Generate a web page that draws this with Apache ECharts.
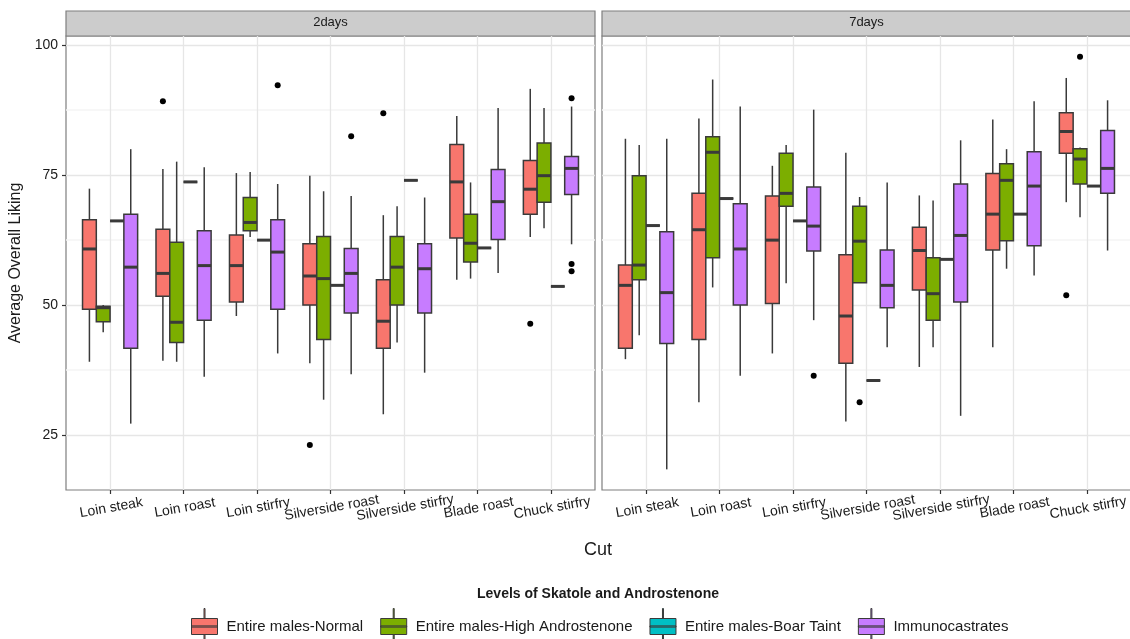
<!DOCTYPE html>
<html>
<head>
<meta charset="utf-8">
<title>Average Overall Liking by Cut</title>
<script src="https://cdn.jsdelivr.net/npm/echarts@6.0.0/dist/echarts.min.js"></script>
<style>
  html, body { margin: 0; padding: 0; background: #fff; }
  #chart { width: 1130px; height: 639px; }
</style>
</head>
<body>
<div id="chart"></div>
<script>
// categories / groups
const cuts = ['Loin steak', 'Loin roast', 'Loin stirfry', 'Silverside roast', 'Silverside stirfry', 'Blade roast', 'Chuck stirfry'];
const groups = ['Entire males-Normal', 'Entire males-High Androstenone', 'Entire males-Boar Taint', 'Immunocastrates'];
const panels = ['2days', '7days'];
const yTicks = [25, 50, 75, 100];
const yMinorTicks = [37.5, 62.5, 87.5];

// box stats per cut: [lower whisker, Q1, median, Q3, upper whisker]
const day2Normal = [
  [39.1, 49.2, 60.8, 66.4, 72.4], [39.3, 51.7, 56.1, 64.6, 76.2], [47.9, 50.6, 57.6, 63.5, 75.4],
  [38.8, 50.0, 55.6, 61.8, 74.9], [29.0, 41.7, 46.9, 54.9, 67.3], [54.9, 62.9, 73.7, 80.9, 86.4],
  [63.1, 67.5, 72.3, 77.8, 91.6]
];
const day2High = [
  [44.8, 46.8, 49.5, 49.8, 50.0], [39.1, 42.8, 46.7, 62.1, 77.6], [63.1, 64.3, 65.9, 70.7, 75.6],
  [31.8, 43.4, 55.1, 63.2, 71.9], [42.8, 50.0, 57.3, 63.2, 69.0], [55.1, 58.3, 61.9, 67.5, 73.6],
  [64.8, 69.8, 74.9, 81.2, 87.9]
];
// boar taint: one animal per cut
const day2Taint = [66.2, 73.7, 62.5, 53.8, 74.0, 61.0, 53.6];
const day2Immuno = [
  [27.2, 41.7, 57.3, 67.5, 80.0], [36.2, 47.1, 57.6, 64.3, 76.5], [40.7, 49.2, 60.2, 66.4, 73.3],
  [36.7, 48.5, 56.1, 60.9, 71.0], [37.0, 48.5, 57.0, 61.8, 70.7], [56.2, 62.6, 69.9, 76.1, 87.9],
  [61.7, 71.3, 76.3, 78.6, 88.2]
];

const day7Normal = [
  [39.6, 41.7, 53.8, 57.7, 82.0], [31.3, 43.4, 64.5, 71.5, 85.9], [40.7, 50.3, 62.5, 71.0, 76.8],
  [27.6, 38.8, 47.9, 59.7, 79.3], [38.1, 52.9, 60.5, 65.0, 71.1], [41.9, 60.6, 67.5, 75.3, 85.7],
  [69.8, 79.2, 83.4, 87.0, 93.7]
];
const day7High = [
  [44.2, 54.9, 57.7, 74.9, 80.8], [53.4, 59.1, 79.4, 82.4, 93.4], [54.2, 69.0, 71.5, 79.2, 80.8],
  [54.3, 54.3, 62.3, 69.0, 70.8], [41.9, 47.1, 52.2, 59.1, 70.1], [57.0, 62.4, 74.0, 77.2, 80.0],
  [66.9, 73.3, 78.1, 80.1, 80.3]
];
const day7Taint = [65.3, 70.5, 66.2, 35.5, 58.8, 67.5, 72.9];
const day7Immuno = [
  [18.4, 42.6, 52.4, 64.1, 82.0], [36.4, 50.0, 60.8, 69.5, 88.2], [47.1, 60.4, 65.2, 72.7, 87.6],
  [41.9, 49.5, 53.8, 60.6, 73.6], [28.7, 50.6, 63.4, 73.3, 81.7], [55.7, 61.4, 72.9, 79.5, 89.2],
  [60.5, 71.5, 76.3, 83.6, 89.4]
];

// outliers: [cut index, group index, value]
const day2Outliers = [
  [1, 0, 89.2], [3, 0, 23.1], [4, 0, 86.9], [6, 0, 46.4],
  [2, 3, 92.3], [3, 3, 82.5], [6, 3, 89.8], [6, 3, 57.9], [6, 3, 56.5]
];
const day7Outliers = [
  [2, 3, 36.4], [3, 1, 31.3], [6, 0, 51.9], [6, 1, 97.8]
];

const colors = ['#F8766D', '#7CAE00', '#00BFC4', '#C77CFF'];
const font = '"Liberation Sans", Arial, sans-serif';
const ink = '#3a3a3a';

// panel geometry (ggplot-like facets)
const panelTop = 36, panelH = 454, panelW = 529;
const panelLeft = [66, 602];
const unit = panelW / (cuts.length + 0.2);    // discrete axis: 0.6 expansion each side
const inset = unit * 0.1;

// y range: data range + 5% each side
const allVals = [].concat(
  day2Normal.flat(), day2High.flat(), day2Taint, day2Immuno.flat(),
  day7Normal.flat(), day7High.flat(), day7Taint, day7Immuno.flat(),
  day2Outliers.map(d => d[2]), day7Outliers.map(d => d[2])
);
const vMin = Math.min(...allVals), vMax = Math.max(...allVals);
const yMin = vMin - 0.05 * (vMax - vMin);
const yMax = vMax + 0.05 * (vMax - vMin);

const panelData = [
  [day2Normal, day2High, day2Taint.map(v => [v, v, v, v, v]), day2Immuno],
  [day7Normal, day7High, day7Taint.map(v => [v, v, v, v, v]), day7Immuno]
];
const panelOutliers = [day2Outliers, day7Outliers];

function boxRender(g) {
  return function (params, api) {
    const c = api.value(0);
    const w = api.size([1, 0])[0] * 0.75 / groups.length;
    const x = api.coord([c, 0])[0] + (g - 1.5) * w;
    const py = v => api.coord([c, v])[1];
    const lo = py(api.value(1)), q1 = py(api.value(2)), md = py(api.value(3));
    const q3 = py(api.value(4)), hi = py(api.value(5));
    const stroke = { stroke: ink, lineWidth: 1.5 };
    return {
      type: 'group',
      children: [
        { type: 'line', shape: { x1: x, y1: hi, x2: x, y2: q3 }, style: stroke },
        { type: 'line', shape: { x1: x, y1: q1, x2: x, y2: lo }, style: stroke },
        { type: 'rect', shape: { x: x - w / 2, y: q3, width: w, height: q1 - q3 },
          style: { fill: colors[g], stroke: ink, lineWidth: 1.5 } },
        { type: 'line', shape: { x1: x - w / 2, y1: md, x2: x + w / 2, y2: md },
          style: { stroke: ink, lineWidth: 3 } }
      ]
    };
  };
}

function outlierRender(params, api) {
  const c = api.value(0);
  const w = api.size([1, 0])[0] * 0.75 / groups.length;
  const p = api.coord([c, api.value(2)]);
  return {
    type: 'circle',
    shape: { cx: p[0] + (api.value(1) - 1.5) * w, cy: p[1], r: 3 },
    style: { fill: '#000' }
  };
}

const series = [];
panels.forEach((pn, p) => {
  groups.forEach((gname, g) => {
    series.push({
      type: 'custom',
      name: gname,
      xAxisIndex: 2 + p,
      yAxisIndex: 4 + p,
      itemStyle: { color: colors[g] },
      encode: { x: 0, y: [1, 2, 3, 4, 5] },
      data: panelData[p][g].map((r, i) => [i].concat(r)),
      renderItem: boxRender(g)
    });
  });
  series.push({
    type: 'custom',
    name: 'outliers',
    xAxisIndex: 2 + p,
    yAxisIndex: 4 + p,
    itemStyle: { color: '#000' },
    encode: { x: 0, y: 2 },
    data: panelOutliers[p].map(d => [d[0], d[1], d[2]]),
    renderItem: outlierRender,
    z: 3
  });
});

const cutPos = cuts.map((c, i) => i + 1);

// frame axes: only the vertical grid lines at the cut positions
const frameX = p => ({
  type: 'value', gridIndex: p, min: 0.4, max: cuts.length + 0.6,
  axisLine: { show: false },
  axisTick: { show: false, customValues: cutPos },
  axisLabel: { show: false, customValues: cutPos },
  splitLine: { show: true, lineStyle: { color: '#e6e6e6', width: 1.3 } }
});
// category axis of the data grid: ticks and cut labels
const dataX = p => ({
  type: 'category', gridIndex: 2 + p, data: cuts,
  axisLine: { show: false },
  axisTick: { show: true, alignWithLabel: true, interval: 0, length: 4, lineStyle: { color: '#333', width: 1.2 } },
  axisLabel: {
    interval: 0, rotate: 10, align: 'center', verticalAlign: 'top', margin: 11,
    fontSize: 14, color: '#1a1a1a', fontFamily: font
  },
  splitLine: { show: false }
});
const frameY = p => ({
  type: 'value', gridIndex: p, min: yMin, max: yMax,
  axisLine: { show: false },
  axisTick: { show: p === 0, customValues: yTicks, length: 4, lineStyle: { color: '#333', width: 1.2 } },
  axisLabel: { show: p === 0, customValues: yTicks, fontSize: 14, color: '#1a1a1a', fontFamily: font, margin: 8 },
  splitLine: { show: true, lineStyle: { color: '#e6e6e6', width: 1.3 } },
  name: p === 0 ? 'Average Overall Liking' : '',
  nameLocation: 'middle', nameGap: 42,
  nameTextStyle: { fontSize: 16, color: '#1a1a1a', fontFamily: font }
});
const minorY = p => ({
  type: 'value', gridIndex: p, min: yMin, max: yMax, position: 'left',
  axisLine: { show: false },
  axisTick: { show: false, customValues: yMinorTicks },
  axisLabel: { show: false, customValues: yMinorTicks },
  splitLine: { show: true, lineStyle: { color: '#f4f4f4', width: 1.5 } }
});

const keyIcon = 'path://M0,10H26V26H0Z M12.5,0H13.5V10H12.5Z M12.5,26H13.5V36H12.5Z M0,17.4H26V18.6H0Z';

const chart = echarts.init(document.getElementById('chart'));
chart.setOption({
  backgroundColor: '#fff',
  animation: false,
  textStyle: { fontFamily: font },
  title: [
    { text: panels[0], left: panelLeft[0] + panelW / 2, top: 16, textAlign: 'center', padding: 0,
      textStyle: { fontSize: 13, fontWeight: 'normal', color: '#1a1a1a', fontFamily: font } },
    { text: panels[1], left: panelLeft[1] + panelW / 2, top: 16, textAlign: 'center', padding: 0,
      textStyle: { fontSize: 13, fontWeight: 'normal', color: '#1a1a1a', fontFamily: font } },
    { text: 'Cut', left: 598, top: 541, textAlign: 'center', padding: 0,
      textStyle: { fontSize: 18, fontWeight: 'normal', color: '#1a1a1a', fontFamily: font } },
    { text: 'Levels of Skatole and Androstenone', left: 598, top: 587, textAlign: 'center', padding: 0,
      textStyle: { fontSize: 14, fontWeight: 'bold', color: '#1a1a1a', fontFamily: font } }
  ],
  graphic: panelLeft.map(l => ({
    type: 'rect', shape: { x: l, y: 11, width: panelW, height: panelTop - 11 },
    style: { fill: '#cccccc', stroke: '#7f7f7f', lineWidth: 1.2 }
  })),
  legend: {
    data: groups.map(n => ({ name: n, icon: keyIcon })),
    left: 186, top: 603, itemWidth: 26, itemHeight: 36, itemGap: 17,
    selectedMode: false,
    itemStyle: { borderColor: ink, borderWidth: 1 },
    textStyle: { fontSize: 15, color: '#1a1a1a', fontFamily: font, padding: [0, 0, 0, 4] }
  },
  grid: [
    { left: panelLeft[0], top: panelTop, width: panelW, height: panelH, show: true,
      backgroundColor: '#fff', borderColor: '#7f7f7f', borderWidth: 1.2, containLabel: false, outerBoundsMode: 'none' },
    { left: panelLeft[1], top: panelTop, width: panelW, height: panelH, show: true,
      backgroundColor: '#fff', borderColor: '#7f7f7f', borderWidth: 1.2, containLabel: false, outerBoundsMode: 'none' },
    { left: panelLeft[0] + inset, top: panelTop, width: unit * cuts.length, height: panelH,
      containLabel: false, outerBoundsMode: 'none' },
    { left: panelLeft[1] + inset, top: panelTop, width: unit * cuts.length, height: panelH,
      containLabel: false, outerBoundsMode: 'none' }
  ],
  xAxis: [frameX(0), frameX(1), dataX(0), dataX(1)],
  yAxis: [
    frameY(0), frameY(1), minorY(0), minorY(1),
    { type: 'value', gridIndex: 2, min: yMin, max: yMax, show: false },
    { type: 'value', gridIndex: 3, min: yMin, max: yMax, show: false }
  ],
  series: series
});
</script>
</body>
</html>
